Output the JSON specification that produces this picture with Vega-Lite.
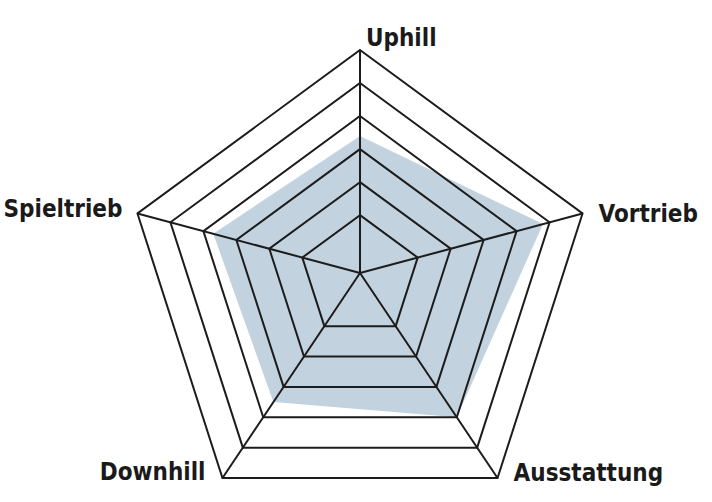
{
  "$schema": "https://vega.github.io/schema/vega-lite/v6.json",
  "width": 712,
  "height": 502,
  "padding": 0,
  "autosize": {"type": "fit", "contains": "padding"},
  "background": "white",
  "config": {"view": {"stroke": null}, "text": {"font": "DejaVu Sans Condensed", "fontWeight": "bold", "fontSize": 24, "color": "#1a1a1a"}},
  "datasets": {
    "scores": [
      {"axis": 0, "label": "Uphill", "value": 4.4},
      {"axis": 1, "label": "Vortrieb", "value": 5.8},
      {"axis": 2, "label": "Ausstattung", "value": 5.0},
      {"axis": 3, "label": "Downhill", "value": 4.5},
      {"axis": 4, "label": "Spieltrieb", "value": 4.7}
    ],
    "rings": [
      {"ring": 2, "axis": 0}, {"ring": 2, "axis": 1}, {"ring": 2, "axis": 2}, {"ring": 2, "axis": 3}, {"ring": 2, "axis": 4},
      {"ring": 3, "axis": 0}, {"ring": 3, "axis": 1}, {"ring": 3, "axis": 2}, {"ring": 3, "axis": 3}, {"ring": 3, "axis": 4},
      {"ring": 4, "axis": 0}, {"ring": 4, "axis": 1}, {"ring": 4, "axis": 2}, {"ring": 4, "axis": 3}, {"ring": 4, "axis": 4},
      {"ring": 5, "axis": 0}, {"ring": 5, "axis": 1}, {"ring": 5, "axis": 2}, {"ring": 5, "axis": 3}, {"ring": 5, "axis": 4},
      {"ring": 6, "axis": 0}, {"ring": 6, "axis": 1}, {"ring": 6, "axis": 2}, {"ring": 6, "axis": 3}, {"ring": 6, "axis": 4},
      {"ring": 7, "axis": 0}, {"ring": 7, "axis": 1}, {"ring": 7, "axis": 2}, {"ring": 7, "axis": 3}, {"ring": 7, "axis": 4}
    ]
  },
  "layer": [
    {
      "data": {"name": "scores"},
      "transform": [
        {"calculate": "datum.axis * 2 * PI / 5", "as": "theta"},
        {"calculate": "(datum.value - 0.25) / 6.75", "as": "s"},
        {"calculate": "datum.s * sin(datum.theta)", "as": "px"},
        {"calculate": "0.0575 + datum.s * (cos(datum.theta) - 0.0575)", "as": "py"}
      ],
      "mark": {"type": "line", "interpolate": "linear-closed", "filled": true, "color": "#c2d3df", "strokeWidth": 0},
      "encoding": {
        "x": {"field": "px", "type": "quantitative", "scale": {"domain": [-1.5385, 1.5043], "nice": false, "zero": false}, "axis": null},
        "y": {"field": "py", "type": "quantitative", "scale": {"domain": [-0.9104, 1.2113], "nice": false, "zero": false}, "axis": null},
        "order": {"field": "axis", "type": "quantitative"}
      }
    },
    {
      "data": {"name": "rings"},
      "transform": [
        {"calculate": "datum.axis * 2 * PI / 5", "as": "theta"},
        {"calculate": "(datum.ring - 0.25) / 6.75", "as": "s"},
        {"calculate": "datum.s * sin(datum.theta)", "as": "px"},
        {"calculate": "0.0575 + datum.s * (cos(datum.theta) - 0.0575)", "as": "py"}
      ],
      "mark": {"type": "line", "interpolate": "linear-closed", "color": "#1c1c1c", "strokeWidth": 2, "strokeJoin": "miter"},
      "encoding": {
        "x": {"field": "px", "type": "quantitative"},
        "y": {"field": "py", "type": "quantitative"},
        "detail": {"field": "ring", "type": "nominal"},
        "order": {"field": "axis", "type": "quantitative"}
      }
    },
    {
      "data": {"name": "scores"},
      "transform": [
        {"calculate": "datum.axis * 2 * PI / 5", "as": "theta"},
        {"calculate": "0", "as": "px"},
        {"calculate": "0.0575", "as": "py"},
        {"calculate": "sin(datum.theta)", "as": "px2"},
        {"calculate": "cos(datum.theta)", "as": "py2"}
      ],
      "mark": {"type": "rule", "color": "#1c1c1c", "strokeWidth": 2},
      "encoding": {
        "x": {"field": "px", "type": "quantitative"},
        "y": {"field": "py", "type": "quantitative"},
        "x2": {"field": "px2"},
        "y2": {"field": "py2"}
      }
    },
    {
      "data": {"name": "scores"},
      "transform": [
        {"filter": "datum.axis == 0"},
        {"calculate": "sin(datum.axis * 2 * PI / 5)", "as": "px"},
        {"calculate": "cos(datum.axis * 2 * PI / 5)", "as": "py"}
      ],
      "mark": {"type": "text", "align": "left", "baseline": "alphabetic", "dx": 6, "dy": -4},
      "encoding": {
        "x": {"field": "px", "type": "quantitative"},
        "y": {"field": "py", "type": "quantitative"},
        "text": {"field": "label"}
      }
    },
    {
      "data": {"name": "scores"},
      "transform": [
        {"filter": "datum.axis == 1"},
        {"calculate": "sin(datum.axis * 2 * PI / 5)", "as": "px"},
        {"calculate": "cos(datum.axis * 2 * PI / 5)", "as": "py"}
      ],
      "mark": {"type": "text", "align": "left", "baseline": "alphabetic", "dx": 16, "dy": 9},
      "encoding": {
        "x": {"field": "px", "type": "quantitative"},
        "y": {"field": "py", "type": "quantitative"},
        "text": {"field": "label"}
      }
    },
    {
      "data": {"name": "scores"},
      "transform": [
        {"filter": "datum.axis == 2"},
        {"calculate": "sin(datum.axis * 2 * PI / 5)", "as": "px"},
        {"calculate": "cos(datum.axis * 2 * PI / 5)", "as": "py"}
      ],
      "mark": {"type": "text", "align": "left", "baseline": "alphabetic", "dx": 16, "dy": 3},
      "encoding": {
        "x": {"field": "px", "type": "quantitative"},
        "y": {"field": "py", "type": "quantitative"},
        "text": {"field": "label"}
      }
    },
    {
      "data": {"name": "scores"},
      "transform": [
        {"filter": "datum.axis == 3"},
        {"calculate": "sin(datum.axis * 2 * PI / 5)", "as": "px"},
        {"calculate": "cos(datum.axis * 2 * PI / 5)", "as": "py"}
      ],
      "mark": {"type": "text", "align": "right", "baseline": "alphabetic", "dx": -17, "dy": 2},
      "encoding": {
        "x": {"field": "px", "type": "quantitative"},
        "y": {"field": "py", "type": "quantitative"},
        "text": {"field": "label"}
      }
    },
    {
      "data": {"name": "scores"},
      "transform": [
        {"filter": "datum.axis == 4"},
        {"calculate": "sin(datum.axis * 2 * PI / 5)", "as": "px"},
        {"calculate": "cos(datum.axis * 2 * PI / 5)", "as": "py"}
      ],
      "mark": {"type": "text", "align": "right", "baseline": "alphabetic", "dx": -15, "dy": 4},
      "encoding": {
        "x": {"field": "px", "type": "quantitative"},
        "y": {"field": "py", "type": "quantitative"},
        "text": {"field": "label"}
      }
    }
  ]
}
